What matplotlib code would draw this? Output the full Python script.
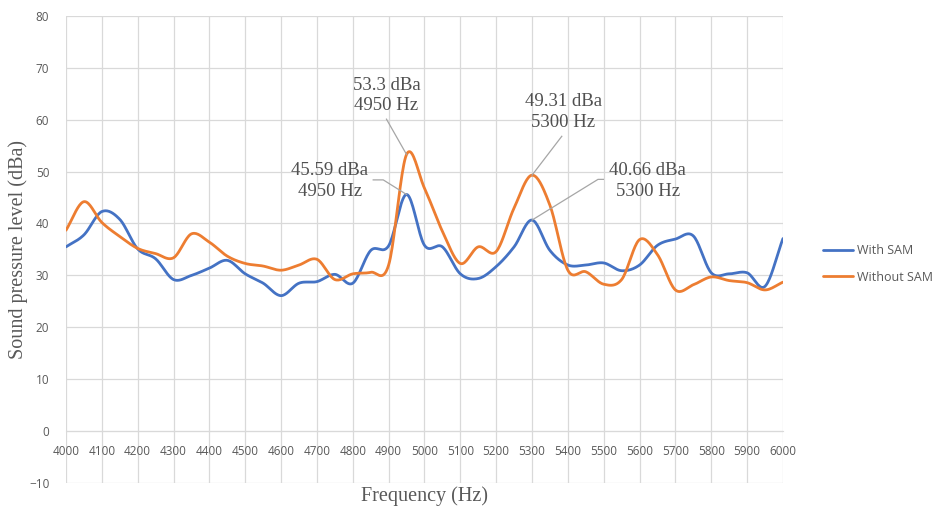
import numpy as np
import matplotlib.pyplot as plt

freq = list(range(4000, 6001, 50))

with_sam = [35.5, 37.8, 42.3, 40.8, 35.1, 33.2, 29.2, 30.0, 31.4, 32.9,
            30.3, 28.5, 26.1, 28.5, 28.8, 30.2, 28.5, 34.8, 35.7, 45.59,
            35.8, 35.5, 30.3, 29.4, 31.7, 35.5, 40.66, 34.8, 32.0, 32.0,
            32.4, 30.9, 32.0, 35.8, 37.0, 37.6, 30.5, 30.3, 30.5, 27.9, 37.1]

without_sam = [38.7, 44.2, 40.2, 37.5, 35.2, 34.2, 33.4, 38.0, 36.4, 33.7,
               32.3, 31.8, 31.0, 32.0, 33.1, 29.2, 30.3, 30.6, 32.0, 53.3,
               46.8, 38.5, 32.3, 35.5, 34.6, 43.0, 49.31, 43.5, 31.0, 30.7,
               28.3, 29.2, 36.9, 34.0, 27.2, 28.2, 29.7, 29.0, 28.6, 27.2, 28.7]

series_names = ["With SAM", "Without SAM"]
series_colors = ["#4472C4", "#ED7D31"]

# peak labels: text, peak (x, y), text centre, leader line points from the text
notes = [
    ("53.3 dBa\n4950 Hz", (4950, 53.3), (4894, 64.7), [(4894, 60.1)]),
    ("45.59 dBa\n4950 Hz", (4950, 45.59), (4736, 48.2), [(4857, 48.4), (4885, 48.4)]),
    ("49.31 dBa\n5300 Hz", (5300, 49.31), (5387, 61.5), [(5383, 56.8)]),
    ("40.66 dBa\n5300 Hz", (5300, 40.66), (5623, 48.2), [(5499, 48.5), (5484, 48.5)]),
]


def smooth(x, y, n=20):
    # catmull-rom through the points, like excel's smoothed line
    x = np.asarray(x, float)
    y = np.asarray(y, float)
    px = np.concatenate([[2 * x[0] - x[1]], x, [2 * x[-1] - x[-2]]])
    py = np.concatenate([[2 * y[0] - y[1]], y, [2 * y[-1] - y[-2]]])
    t = np.linspace(0, 1, n, endpoint=False)
    xs, ys = [], []
    for i in range(1, len(px) - 2):
        for p, out in ((px, xs), (py, ys)):
            p0, p1, p2, p3 = p[i - 1], p[i], p[i + 1], p[i + 2]
            out.append(0.5 * (2 * p1 + (-p0 + p2) * t
                              + (2 * p0 - 5 * p1 + 4 * p2 - p3) * t ** 2
                              + (-p0 + 3 * p1 - 3 * p2 + p3) * t ** 3))
    xs.append([x[-1]])
    ys.append([y[-1]])
    return np.concatenate(xs), np.concatenate(ys)


fig = plt.figure(figsize=(9.36, 5.12), dpi=100)
ax = fig.add_axes([0.0705, 0.0566, 0.766, 0.9124])

for vals, name, col in zip([with_sam, without_sam], series_names, series_colors):
    sx, sy = smooth(freq, vals)
    ax.plot(sx, sy, color=col, lw=2.0, label=name, solid_capstyle="round")

ax.set_xlim(4000, 6000)
ax.set_ylim(-10, 80)
ax.set_xticks(range(4000, 6001, 100))
ax.set_yticks(range(-10, 81, 10))
ax.grid(True, color="#D9D9D9", lw=0.9)
ax.set_axisbelow(True)

for s in ["top", "right", "left"]:
    ax.spines[s].set_visible(False)
ax.spines["bottom"].set_position(("data", 0))
ax.spines["bottom"].set_color("#D9D9D9")
ax.tick_params(length=0, labelsize=8.5, labelcolor="#595959")
ax.tick_params(axis="x", pad=10)
ax.tick_params(axis="y", pad=12)
for lab in ax.get_xticklabels() + ax.get_yticklabels():
    lab.set_family("Open Sans")

ax.set_xlabel("Frequency (Hz)", family="Liberation Serif", fontsize=14.5,
              color="#595959")
ax.xaxis.set_label_coords(0.5, -0.008)
ax.set_ylabel("Sound pressure level (dBa)", family="Liberation Serif",
              fontsize=14.5, color="#595959")
ax.yaxis.set_label_coords(-0.053, 0.5)

for txt, peak, pos, leader in notes:
    pts = leader + [peak]
    ax.plot([p[0] for p in pts], [p[1] for p in pts], color="#A6A6A6",
            lw=0.9, zorder=3)
    ax.text(pos[0], pos[1], txt, ha="center", va="center",
            family="Liberation Serif", fontsize=13.5, color="#505050",
            linespacing=1.25)

ax.legend(loc="center left", bbox_to_anchor=(0.874, 0.4848),
          bbox_transform=fig.transFigure, frameon=False, borderaxespad=0,
          prop={"family": "Open Sans", "size": 9}, labelcolor="#595959",
          handlelength=2.4, handletextpad=0.3, labelspacing=1.1)

fig.savefig("out.png", dpi=100)
